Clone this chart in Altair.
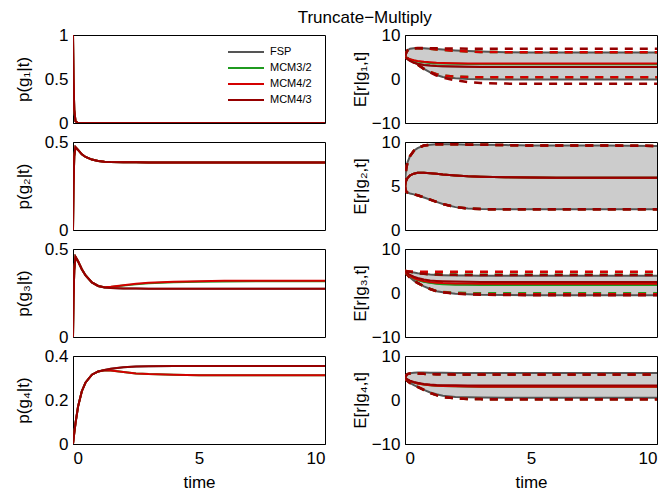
import altair as alt
import pandas as pd

# ---------------- data ----------------
T = [0, 0.02, 0.05, 0.1, 0.2, 0.35, 0.5, 0.75, 1, 1.25, 1.5, 2, 2.5, 3, 4, 5, 6, 8, 10]
METHODS = ["FSP", "MCM3/2", "MCM4/2", "MCM4/3"]
COLORS = ["#555555", "#1f9a1f", "#d40000", "#960000"]

# p(g_i | t) for each method
P1 = {m: [1, 0.5, 0.15, 0.02, 0, 0, 0, 0, 0, 0, 0, 0, 0, 0, 0, 0, 0, 0, 0] for m in METHODS}
P2 = {m: [0, 0.25, 0.42, 0.47, 0.455, 0.43, 0.415, 0.40, 0.392, 0.388, 0.386, 0.385, 0.385,
          0.384, 0.384, 0.384, 0.384, 0.384, 0.384] for m in METHODS}
P3_low = [0, 0.22, 0.38, 0.455, 0.43, 0.385, 0.35, 0.31, 0.29, 0.281, 0.278, 0.276, 0.275,
          0.274, 0.274, 0.274, 0.274, 0.274, 0.274]
P3_up_g = [0, 0.22, 0.38, 0.455, 0.43, 0.385, 0.35, 0.31, 0.29, 0.283, 0.284, 0.292, 0.299,
           0.305, 0.311, 0.314, 0.316, 0.317, 0.317]
P3_up_r = [0, 0.22, 0.38, 0.455, 0.43, 0.385, 0.35, 0.31, 0.29, 0.283, 0.285, 0.294, 0.302,
           0.308, 0.314, 0.317, 0.319, 0.320, 0.320]
P3 = {"FSP": P3_low, "MCM3/2": P3_up_g, "MCM4/2": P3_up_r, "MCM4/3": P3_low}
P4_up = [0, 0.02, 0.05, 0.095, 0.17, 0.24, 0.28, 0.315, 0.33, 0.336, 0.342, 0.349, 0.352,
         0.353, 0.354, 0.355, 0.355, 0.355, 0.355]
P4_low = [0, 0.02, 0.05, 0.095, 0.17, 0.24, 0.28, 0.315, 0.33, 0.335, 0.334, 0.327, 0.321,
          0.318, 0.315, 0.313, 0.312, 0.312, 0.312]
P4 = {"FSP": P4_up, "MCM3/2": P4_low, "MCM4/2": P4_low, "MCM4/3": P4_up}

# E[r | g_i, t]: mean, lower and upper bound per method
R1 = {
    "FSP": dict(
        mean=[5, 4.9, 4.75, 4.5, 4.1, 3.7, 3.45, 3.2, 3.05, 2.95, 2.9, 2.85, 2.8, 2.78, 2.75, 2.75, 2.75, 2.75, 2.75],
        lo=[5, 4.95, 4.85, 4.7, 4.35, 3.9, 3.3, 2.3, 1.5, 0.9, 0.45, 0.15, 0.0, -0.05, -0.1, -0.1, -0.1, -0.1, -0.1],
        hi=[5, 5.5, 6.0, 6.5, 6.9, 7.0, 7.05, 7.0, 6.9, 6.8, 6.7, 6.5, 6.35, 6.25, 6.1, 6.05, 6.05, 6.05, 6.05]),
    "MCM3/2": dict(
        mean=[5, 4.95, 4.85, 4.7, 4.45, 4.2, 4.0, 3.8, 3.65, 3.55, 3.5, 3.45, 3.4, 3.4, 3.35, 3.35, 3.35, 3.35, 3.35],
        lo=[5, 4.95, 4.85, 4.7, 4.35, 3.9, 3.3, 2.3, 1.6, 1.1, 0.8, 0.55, 0.45, 0.4, 0.4, 0.4, 0.4, 0.4, 0.4],
        hi=[5, 5.5, 6.0, 6.5, 6.9, 7.0, 7.0, 6.95, 6.85, 6.7, 6.6, 6.4, 6.25, 6.15, 6.1, 6.1, 6.1, 6.1, 6.1]),
    "MCM4/2": dict(
        mean=[5, 4.95, 4.85, 4.7, 4.5, 4.25, 4.1, 3.9, 3.8, 3.7, 3.65, 3.6, 3.55, 3.55, 3.5, 3.5, 3.5, 3.5, 3.5],
        lo=[5, 4.95, 4.85, 4.7, 4.35, 3.9, 3.3, 2.3, 1.6, 1.1, 0.8, 0.55, 0.45, 0.4, 0.4, 0.4, 0.4, 0.4, 0.4],
        hi=[5, 5.5, 6.0, 6.5, 6.9, 7.0, 7.0, 6.95, 6.85, 6.7, 6.6, 6.4, 6.25, 6.15, 6.1, 6.1, 6.1, 6.1, 6.1]),
    "MCM4/3": dict(
        mean=[5, 4.9, 4.75, 4.5, 4.1, 3.7, 3.45, 3.2, 3.05, 2.95, 2.9, 2.82, 2.78, 2.75, 2.72, 2.7, 2.7, 2.7, 2.7],
        lo=[5, 4.95, 4.85, 4.7, 4.35, 3.9, 3.3, 2.3, 1.5, 0.8, 0.3, -0.3, -0.7, -0.9, -1.05, -1.1, -1.1, -1.1, -1.1],
        hi=[5, 5.5, 6.0, 6.5, 6.9, 7.0, 7.05, 7.05, 7.0, 7.0, 6.95, 6.95, 6.9, 6.9, 6.9, 6.9, 6.9, 6.9, 6.9]),
}
R2_all = dict(
    mean=[5, 5.3, 5.6, 5.9, 6.2, 6.4, 6.5, 6.5, 6.45, 6.4, 6.3, 6.2, 6.1, 6.05, 6.0, 5.97, 5.95, 5.93, 5.93],
    lo=[5, 4.6, 4.35, 4.25, 4.15, 4.05, 3.95, 3.7, 3.45, 3.2, 2.95, 2.6, 2.45, 2.38, 2.35, 2.35, 2.35, 2.35, 2.35],
    hi=[5, 6.2, 7.0, 7.7, 8.4, 9.0, 9.3, 9.6, 9.7, 9.75, 9.75, 9.75, 9.7, 9.7, 9.65, 9.6, 9.6, 9.6, 9.55])
R2 = {m: R2_all for m in METHODS}
R3 = {
    "FSP": dict(
        mean=[5, 4.9, 4.7, 4.35, 3.85, 3.35, 3.0, 2.6, 2.35, 2.2, 2.1, 2.0, 1.95, 1.92, 1.9, 1.9, 1.9, 1.9, 1.9],
        lo=[5, 4.8, 4.5, 4.1, 3.5, 2.8, 2.3, 1.5, 0.9, 0.4, 0.15, -0.15, -0.3, -0.4, -0.45, -0.5, -0.5, -0.5, -0.5],
        hi=[5, 5.0, 4.95, 4.9, 4.8, 4.65, 4.5, 4.35, 4.2, 4.1, 4.05, 4.0, 3.95, 3.9, 3.9, 3.9, 3.9, 3.9, 3.9]),
    "MCM3/2": dict(
        mean=[5, 4.9, 4.7, 4.35, 3.85, 3.3, 2.95, 2.55, 2.3, 2.1, 2.0, 1.9, 1.85, 1.82, 1.8, 1.8, 1.8, 1.8, 1.8],
        lo=[5, 4.8, 4.5, 4.1, 3.5, 2.8, 2.3, 1.5, 0.9, 0.45, 0.25, 0.05, -0.02, -0.05, -0.05, -0.05, -0.05, -0.05, -0.05],
        hi=[5, 5.0, 4.95, 4.9, 4.8, 4.65, 4.5, 4.4, 4.3, 4.25, 4.2, 4.18, 4.15, 4.15, 4.15, 4.15, 4.15, 4.15, 4.15]),
    "MCM4/2": dict(
        mean=[5, 4.9, 4.7, 4.4, 3.9, 3.4, 3.05, 2.7, 2.5, 2.35, 2.25, 2.18, 2.14, 2.12, 2.1, 2.1, 2.1, 2.1, 2.1],
        lo=[5, 4.8, 4.5, 4.1, 3.5, 2.8, 2.3, 1.5, 0.9, 0.4, 0.15, -0.1, -0.2, -0.25, -0.3, -0.3, -0.3, -0.3, -0.3],
        hi=[5, 5.0, 4.98, 4.95, 4.9, 4.88, 4.86, 4.85, 4.85, 4.85, 4.85, 4.85, 4.85, 4.85, 4.85, 4.85, 4.85, 4.85, 4.85]),
    "MCM4/3": dict(
        mean=[5, 4.9, 4.75, 4.5, 4.1, 3.7, 3.4, 3.05, 2.85, 2.75, 2.68, 2.6, 2.55, 2.52, 2.5, 2.5, 2.5, 2.5, 2.5],
        lo=[5, 4.8, 4.5, 4.1, 3.5, 2.8, 2.3, 1.5, 0.9, 0.4, 0.15, -0.15, -0.3, -0.4, -0.45, -0.5, -0.5, -0.5, -0.5],
        hi=[5, 5.0, 4.95, 4.9, 4.8, 4.65, 4.5, 4.35, 4.25, 4.2, 4.15, 4.12, 4.1, 4.1, 4.1, 4.1, 4.1, 4.1, 4.1]),
}
R4_mcm = dict(
    mean=[5, 4.95, 4.8, 4.6, 4.3, 4.0, 3.75, 3.5, 3.35, 3.25, 3.18, 3.1, 3.05, 3.02, 3.0, 3.0, 3.0, 3.0, 3.0],
    lo=[5, 4.8, 4.6, 4.3, 3.9, 3.4, 3.0, 2.3, 1.6, 1.1, 0.7, 0.4, 0.25, 0.2, 0.15, 0.15, 0.15, 0.15, 0.15],
    hi=[5, 5.3, 5.6, 5.9, 6.05, 6.1, 6.05, 5.95, 5.9, 5.85, 5.85, 5.8, 5.8, 5.8, 5.8, 5.8, 5.8, 5.8, 5.8])
R4 = {
    "FSP": dict(
        mean=[5, 4.95, 4.8, 4.6, 4.3, 4.0, 3.8, 3.55, 3.4, 3.3, 3.25, 3.18, 3.14, 3.12, 3.1, 3.1, 3.1, 3.1, 3.1],
        lo=[5, 4.8, 4.6, 4.3, 3.9, 3.4, 3.0, 2.3, 1.7, 1.3, 0.95, 0.7, 0.6, 0.55, 0.5, 0.5, 0.5, 0.5, 0.5],
        hi=[5, 5.3, 5.6, 5.9, 6.1, 6.2, 6.25, 6.25, 6.2, 6.2, 6.2, 6.15, 6.15, 6.15, 6.15, 6.15, 6.15, 6.15, 6.15]),
    "MCM3/2": R4_mcm,
    "MCM4/2": R4_mcm,
    "MCM4/3": dict(
        mean=[5, 4.95, 4.85, 4.65, 4.4, 4.1, 3.9, 3.65, 3.5, 3.42, 3.38, 3.33, 3.31, 3.3, 3.3, 3.3, 3.3, 3.3, 3.3],
        lo=[5, 4.8, 4.6, 4.3, 3.9, 3.4, 3.0, 2.3, 1.6, 1.1, 0.7, 0.4, 0.25, 0.2, 0.15, 0.15, 0.15, 0.15, 0.15],
        hi=[5, 5.3, 5.6, 5.9, 6.05, 6.1, 6.05, 5.95, 5.9, 5.85, 5.85, 5.8, 5.8, 5.8, 5.8, 5.8, 5.8, 5.8, 5.8]),
}

LEFT = [P1, P2, P3, P4]
RIGHT = [R1, R2, R3, R4]
LEFT_TITLES = ["p(g₁|t)", "p(g₂|t)", "p(g₃|t)", "p(g₄|t)"]
RIGHT_TITLES = ["E[r|g₁,t]", "E[r|g₂,t]", "E[r|g₃,t]", "E[r|g₄,t]"]
LEFT_DOMAINS = [[0, 1], [0, 0.5], [0, 0.5], [0, 0.4]]
LEFT_TICKS = [[0, 0.5, 1], [0, 0.5], [0, 0.5], [0, 0.2, 0.4]]
RIGHT_DOMAINS = [[-10, 10], [0, 10], [-10, 10], [-10, 10]]
RIGHT_TICKS = [[-10, 0, 10], [0, 5, 10], [-10, 0, 10], [-10, 0, 10]]
X_TICKS = [0, 5, 10]

# ---------------- chart ----------------
W, H = 252, 88
FONT = "Liberation Sans"
color_scale = alt.Scale(domain=METHODS, range=COLORS)


def x_enc(i):
    if i == 3:
        ax = alt.Axis(values=X_TICKS, title="time", format="d")
    else:
        ax = None
    return alt.X("t:Q", scale=alt.Scale(domain=[0, 10], nice=False), axis=ax)


def y_axis(title, ticks, tp):
    return alt.Axis(values=ticks, title=title, titlePadding=tp, format="~r")


panels = []
for i in range(4):
    # left panel
    recs = []
    for m in METHODS:
        for t, v in zip(T, LEFT[i][m]):
            recs.append({"t": t, "method": m, "p": v})
    ldf = pd.DataFrame(recs)
    legend = None
    if i == 0:
        legend = alt.Legend(title=None, orient="none", legendX=166, legendY=10,
                            symbolType="M-3,0H3", symbolSize=144, symbolStrokeWidth=2,
                            labelFont=FONT, labelFontSize=11, labelOffset=17,
                            rowPadding=4, padding=0)
    left = alt.Chart(ldf).mark_line(strokeWidth=2, clip=True).encode(
        x=x_enc(i),
        y=alt.Y("p:Q", scale=alt.Scale(domain=LEFT_DOMAINS[i], nice=False, zero=False),
                axis=y_axis(LEFT_TITLES[i], LEFT_TICKS[i], 12)),
        color=alt.Color("method:N", scale=color_scale, legend=legend),
    ).properties(width=W, height=H)

    # right panel
    recs = []
    for m in METHODS:
        d = RIGHT[i][m]
        for k, t in enumerate(T):
            recs.append({"t": t, "method": m, "mean": d["mean"][k], "lo": d["lo"][k], "hi": d["hi"][k]})
    rdf = pd.DataFrame(recs)
    ysc = alt.Scale(domain=RIGHT_DOMAINS[i], nice=False, zero=False)
    yax = y_axis(RIGHT_TITLES[i], RIGHT_TICKS[i], 12 if i == 1 else 2)
    col = alt.Color("method:N", scale=color_scale, legend=None)
    base = alt.Chart(rdf)
    band = base.transform_filter(alt.datum.method == "FSP").mark_area(
        color="#cccccc", opacity=1, clip=True).encode(
        x=x_enc(i), y=alt.Y("lo:Q", scale=ysc, axis=yax), y2="hi:Q")
    fsp_lines = base.transform_filter(alt.datum.method == "FSP").transform_fold(
        ["lo", "hi", "mean"], as_=["k", "v"]).mark_line(strokeWidth=2, clip=True).encode(
        x=x_enc(i), y=alt.Y("v:Q", scale=ysc, axis=yax), detail="k:N", color=col)
    mcm_bounds = base.transform_filter(alt.datum.method != "FSP").transform_fold(
        ["lo", "hi"], as_=["k", "v"]).mark_line(strokeWidth=2.5, strokeDash=[8, 7], clip=True).encode(
        x=x_enc(i), y=alt.Y("v:Q", scale=ysc, axis=yax), detail="k:N", color=col)
    mcm_mean = base.transform_filter(alt.datum.method != "FSP").mark_line(
        strokeWidth=2, clip=True).encode(
        x=x_enc(i), y=alt.Y("mean:Q", scale=ysc, axis=yax), color=col)
    right = alt.layer(band, fsp_lines, mcm_bounds, mcm_mean).properties(width=W, height=H)

    panels.append(left)
    panels.append(right)

chart = alt.concat(*panels, columns=2, spacing={"row": 19, "column": 80}, bounds="flush").resolve_scale(
    y="independent").resolve_legend(color="independent").properties(
    title=alt.TitleParams("Truncate−Multiply", fontSize=17, font=FONT, fontWeight="normal",
                          anchor="middle", offset=-1, dx=29, color="black"),
    padding={"left": 5, "top": 0, "right": 0, "bottom": 0},
).configure_view(stroke="black", strokeWidth=1).configure_axis(
    labelFont=FONT, labelFontSize=17, labelColor="black", titleFont=FONT, titleFontSize=17,
    titleFontWeight="normal", titleColor="black", domainColor="black", domainWidth=1,
    ticks=False, grid=False, labelPadding=5,
).configure_axisX(labelPadding=6, titlePadding=8)

chart.save("out.html", embed_options={"renderer": "svg", "actions": False})
